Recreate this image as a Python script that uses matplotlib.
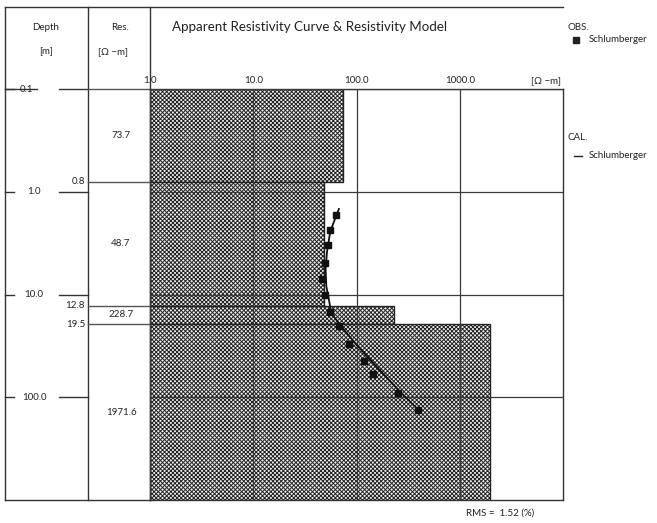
import matplotlib
matplotlib.use("Agg")
import matplotlib.pyplot as plt
from matplotlib.transforms import blended_transform_factory

plt.rcParams['font.family'] = ['Lato', 'DejaVu Sans']
plt.rcParams['hatch.linewidth'] = 0.7

# layered resistivity model
depth_top = [0.1, 0.8, 12.8, 19.5]
depth_bot = [0.8, 12.8, 19.5, 1000]
layer_res = [73.7, 48.7, 228.7, 1971.6]

# observed apparent resistivity (Schlumberger)
obs_ab = [1.67, 2.38, 3.32, 4.92, 7.04, 10.2, 14.7, 20.3, 30.1, 44.4, 59.8, 90, 131.6]
obs_rho = [62.7, 55.7, 53.3, 49.1, 46.6, 49.1, 55.7, 67.0, 83.7, 117.7, 145, 254.6, 397]

# calculated curve
cal_ab = [1.47, 2.43, 3.91, 5.72, 8.3, 11.2, 15.1, 19.6, 30.6, 47.8, 83.6, 130.8]
cal_rho = [67.5, 55.7, 51.7, 50.2, 51.0, 54.0, 57.0, 68.5, 99.3, 149, 250.6, 391]

x_ticks = [1, 10, 100, 1000]
x_tick_labels = ['1.0', '10.0', '100.0', '1000.0']
depth_ticks = [0.1, 1, 10, 100]
depth_tick_labels = ['0.1', '1.0', '10.0', '100.0']
rms = 1.52

W, H = 657, 523
fig = plt.figure(figsize=(W / 100, H / 100), dpi=100)

# background axes in pixel units for the table frame
bg = fig.add_axes([0, 0, 1, 1])
bg.set_xlim(0, W)
bg.set_ylim(H, 0)
bg.set_axis_off()

# main plot area
ax = fig.add_axes([150 / W, (H - 500) / H, 413 / W, 411 / H])
ax.set_xscale('log')
ax.set_yscale('log')
ax.set_xlim(1, 10000)
ax.set_ylim(1000, 0.1)

lc = '#333333'
tc = '#222222'

# model blocks
for top, bot, res in zip(depth_top, depth_bot, layer_res):
    ax.barh(top, res - 1, height=bot - top, left=1, align='edge',
            facecolor='#f2f2f2', edgecolor='#222222', hatch='xxxxxxxx', lw=1.0, zorder=1)

ax.grid(True, which='major', color='#3a3a3a', lw=0.9)
ax.set_axisbelow(False)
ax.minorticks_off()

ax.plot(cal_rho, cal_ab, color='#111111', lw=1.3, zorder=4)
ax.plot(obs_rho, obs_ab, 's', ms=4.8, color='#111111', zorder=5)

ax.xaxis.tick_top()
ax.set_xticks(x_ticks)
ax.set_xticklabels(x_tick_labels, fontsize=7, color=tc)
ax.tick_params(axis='x', length=0, pad=3)
ax.set_yticks(depth_ticks)
ax.set_yticklabels([])
ax.tick_params(axis='y', length=0)
for sp in ax.spines.values():
    sp.set_color(lc)
    sp.set_linewidth(1.0)
ax.text(0.995, 1.01, '[Ω −m]', transform=ax.transAxes, ha='right', va='bottom',
        fontsize=7, color=tc)

# table frame
bg.plot([5, 563], [7, 7], color=lc, lw=1.0)
bg.plot([5, 5], [7, 500], color=lc, lw=1.0)
bg.plot([5, 150], [500, 500], color=lc, lw=1.0)
bg.plot([88, 88], [7, 500], color=lc, lw=1.0)
bg.plot([150, 150], [7, 500], color=lc, lw=1.0)

bg.text(46, 28, 'Depth', ha='center', va='center', fontsize=7, color=tc)
bg.text(46, 52, '[m]', ha='center', va='center', fontsize=7, color=tc)
bg.text(120, 28, 'Res.', ha='center', va='center', fontsize=7, color=tc)
bg.text(113, 52, '[Ω −m]', ha='center', va='center', fontsize=7, color=tc)
bg.text(172, 27, 'Apparent Resistivity Curve & Resistivity Model', ha='left',
        va='center', fontsize=9.6, color=tc)

trans = blended_transform_factory(bg.transData, ax.transData)

# depth axis ticks
for d, lab in zip(depth_ticks, depth_tick_labels):
    bg.plot([5, 14], [d, d], color=lc, lw=1.0, transform=trans)
    bg.plot([59, 88], [d, d], color=lc, lw=1.0, transform=trans)
    bg.text(34 if d != 0.1 else 27, d, lab, ha='center', va='center',
            fontsize=7, color=tc, transform=trans)
bg.plot([5, 37], [depth_ticks[0]] * 2, color=lc, lw=1.0, transform=trans)

# layer boundaries in the Res column
for d in depth_top:
    bg.plot([88, 150], [d, d], color='#555555', lw=1.0, transform=trans)
for d in depth_top[1:]:
    bg.text(85, d, f'{d:.1f}', ha='right', va='center', fontsize=7,
            color=tc, transform=trans)
for top, bot, res in zip(depth_top, depth_bot, layer_res):
    mid = (top * bot) ** 0.5
    bg.text(121, mid, f'{res:.1f}', ha='center', va='center', fontsize=7,
            color=tc, transform=trans)

# legend
bg.text(568, 27, 'OBS.', ha='left', va='center', fontsize=7, color=tc)
bg.plot([576], [40], 's', ms=4, color=tc)
bg.text(589, 40, 'Schlumberger', ha='left', va='center', fontsize=7, color=tc)
bg.text(568, 138, 'CAL.', ha='left', va='center', fontsize=7, color=tc)
bg.plot([574, 582], [156, 156], color=tc, lw=1.0)
bg.text(589, 156, 'Schlumberger', ha='left', va='center', fontsize=7, color=tc)

bg.text(500, 513, f'RMS =  {rms:.2f} (%)', ha='center', va='center',
        fontsize=7, color=tc)

fig.savefig('out.png', dpi=100)
